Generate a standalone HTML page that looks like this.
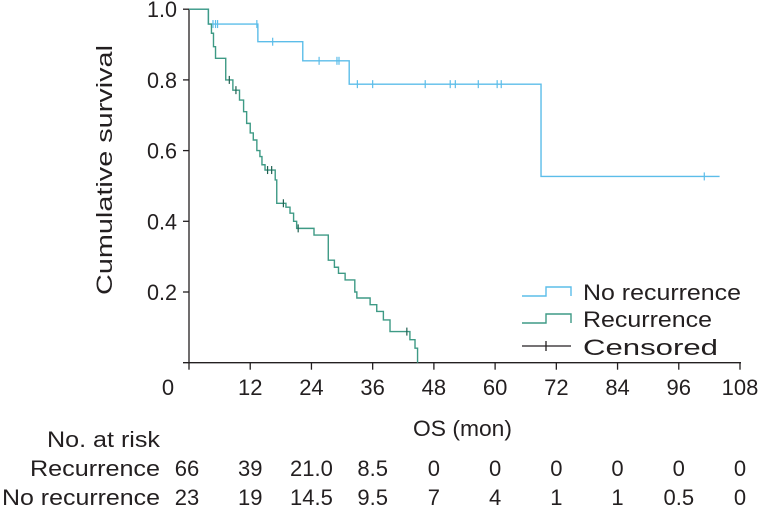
<!DOCTYPE html>
<html><head><meta charset="utf-8"><style>
body{margin:0;background:#fff}
svg{display:block;font-family:"Liberation Sans",Arial,sans-serif;fill:#231f20}
</style></head><body>
<svg width="762" height="509" viewBox="0 0 762 509">
<g id="axes"></g><g id="curves"></g><g id="legend"></g><g id="risk"></g>
</svg>
<script>
const xTicks=[0,12,24,36,48,60,72,84,96,108];
const yTicks=[0.2,0.4,0.6,0.8,1.0];
const noRecTimes=[3.8,13.5,22.3,31.4,69];
const noRecSurv=[0.958,0.908,0.854,0.788,0.527];
const noRecEnd=104;
const noRecCensor=[4.7,5.2,5.6,13.3,16.4,25.5,29,29.4,33,36,46.3,51.2,52.2,56.7,60.4,61.2,101];
const recTimes=[3.8,4.4,4.8,5.2,7.2,8.6,9.9,10.7,11.3,12.0,12.6,13.3,13.9,14.3,14.9,16.9,17.2,19.0,19.8,20.5,21.1,24.5,27.3,28.5,29.3,30.6,32.5,32.9,35.5,36.8,38.1,39.4,43.3,44.3,44.8];
const recSurv=[0.958,0.932,0.894,0.861,0.80,0.771,0.743,0.71,0.677,0.65,0.63,0.60,0.583,0.56,0.545,0.517,0.451,0.44,0.423,0.40,0.38,0.361,0.29,0.27,0.253,0.234,0.2,0.183,0.164,0.145,0.121,0.088,0.065,0.041,0];
const recCensor=[7.9,9.2,15.4,16.2,18.5,21.4,42.7];
const riskRows=["Recurrence","No recurrence"];
const riskRec=["66","39","21.0","8.5","0","0","0","0","0","0"];
const riskNoRec=["23","19","14.5","9.5","7","4","1","1","0.5","0"];

const X=m=>189+m*(740-189)/108;
const Y=s=>362.7-353.5*s;
const NS="http://www.w3.org/2000/svg";
const FS=22;
function mk(tag,attrs,parent,text){const e=document.createElementNS(NS,tag);for(const k in attrs)e.setAttribute(k,attrs[k]);if(text!==undefined)e.textContent=text;parent.appendChild(e);return e;}
const axes=document.getElementById('axes'),curves=document.getElementById('curves'),legend=document.getElementById('legend'),risk=document.getElementById('risk');
const TL={lengthAdjust:'spacingAndGlyphs'};

let el=mk('line',{x1:189,y1:Y(1),x2:189,y2:Y(0),stroke:'#231f20','stroke-width':1.3},axes);


el=mk('line',{x1:183,y1:Y(0),x2:741,y2:Y(0),stroke:'#231f20','stroke-width':1.3},axes);


yTicks.forEach(v=>{
 el=mk('line',{x1:183,y1:Y(v),x2:189,y2:Y(v),stroke:'#231f20','stroke-width':1.3},axes);
 
 
 el=mk('text',{x:177,y:Y(v)+8,'text-anchor':'end','font-size':FS,textLength:30,lengthAdjust:'spacingAndGlyphs'},axes,v.toFixed(1));
 
 
});
xTicks.forEach((v,i)=>{
 el=mk('line',{x1:X(v),y1:Y(0),x2:X(v),y2:Y(0)+7,stroke:'#231f20','stroke-width':1.3},axes);
 
 
 el=mk('text',{x:i===0?168:X(v),y:395,'text-anchor':'middle','font-size':FS},axes,String(v));
 
 
});
el=mk('text',{x:413,y:436,'font-size':FS,textLength:99,lengthAdjust:'spacingAndGlyphs'},axes,'OS (mon)');


el=mk('text',{x:-295,y:0,'font-size':FS,textLength:250,lengthAdjust:'spacingAndGlyphs',transform:'translate(112,0) rotate(-90)'},axes,'Cumulative survival');



function stepPath(times,surv,end){
 let d=`M${X(0)},${Y(1)}`;
 times.forEach((t,i)=>{d+=` H${X(t)} V${Y(surv[i])}`;});
 if(end!==undefined)d+=` H${X(end)}`;
 return d;
}
function levelAt(times,surv,t){let s=1;times.forEach((tt,i)=>{if(tt<=t)s=surv[i];});return s;}
const blue='#5cbde9',green='#3e9a85';
el=mk('path',{d:stepPath(noRecTimes,noRecSurv,noRecEnd),fill:'none',stroke:blue,'stroke-width':1.4},curves);


el=mk('path',{d:stepPath(recTimes,recSurv),fill:'none',stroke:green,'stroke-width':1.4},curves);


noRecCensor.forEach(t=>{const y=Y(levelAt(noRecTimes,noRecSurv,t));
 el=mk('line',{x1:X(t),y1:y-4,x2:X(t),y2:y+4,stroke:blue,'stroke-width':1.2},curves);
 
 });
recCensor.forEach(t=>{const y=Y(levelAt(recTimes,recSurv,t));
 el=mk('line',{x1:X(t),y1:y-4,x2:X(t),y2:y+4,stroke:'#1f5f50','stroke-width':1.2},curves);
 
 });

// legend
el=mk('path',{d:'M522,296 H546 V287 H571 V296',fill:'none',stroke:blue,'stroke-width':1.4},legend);


el=mk('text',{x:583,y:300,'font-size':FS,textLength:158,lengthAdjust:'spacingAndGlyphs'},legend,'No recurrence');


el=mk('path',{d:'M522,323 H546 V314 H571 V323',fill:'none',stroke:green,'stroke-width':1.4},legend);


el=mk('text',{x:583,y:327,'font-size':FS,textLength:129,lengthAdjust:'spacingAndGlyphs'},legend,'Recurrence');


el=mk('path',{d:'M522,346 H571 M546,341 V351',fill:'none',stroke:'#231f20','stroke-width':1.3},legend);


el=mk('text',{x:583,y:355,'font-size':FS,textLength:135,lengthAdjust:'spacingAndGlyphs'},legend,'Censored');



// risk table
el=mk('text',{x:47,y:447,'font-size':FS,textLength:113,lengthAdjust:'spacingAndGlyphs'},risk,'No. at risk');


const rowX=[30,2],rowW=[130,158];
[riskRec,riskNoRec].forEach((row,r)=>{
 const y=476+r*29;
 el=mk('text',{x:rowX[r],y:y,'font-size':FS,textLength:rowW[r],lengthAdjust:'spacingAndGlyphs'},risk,riskRows[r]);
 
 
 row.forEach((v,i)=>{
  el=mk('text',{x:i===0?187:X(xTicks[i]),y:y,'text-anchor':'middle','font-size':FS},risk,v);
  
  
 });
});
</script>
</body></html>
